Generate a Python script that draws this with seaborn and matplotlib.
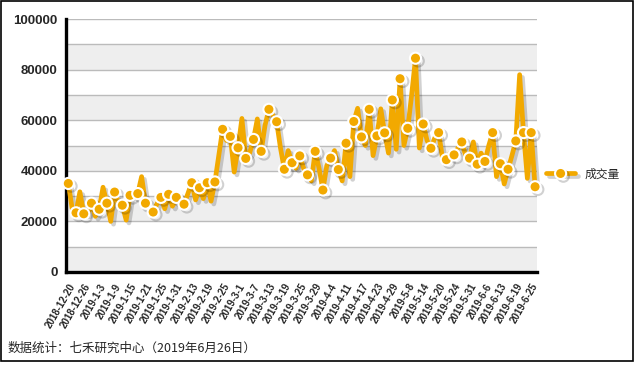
import matplotlib
matplotlib.use('Agg')
import matplotlib.pyplot as plt
import matplotlib.patheffects as pe
from matplotlib.patches import Rectangle
import numpy as np
import pandas as pd
import seaborn as sns

# daily volume (成交量), 2018-12-20 .. 2019-6-26, one value per trading day
volume = [
    35000, 25000, 23400, 31700, 23000, 23000, 27200, 22000, 24800, 33500,
    27200, 20000, 31600, 27500, 26400, 20500, 30300, 31500, 31000, 37700,
    27200, 25500, 23700, 27000, 29500, 25000, 30700, 26000, 29500, 27000,
    26800, 31000, 35300, 28500, 33300, 29000, 35300, 28000, 35600, 46000,
    56400, 52000, 53600, 39500, 49100, 60700, 44900, 47000, 52400, 60500,
    47700, 58000, 64300, 62000, 59400, 49000, 40600, 48000, 43200, 41000,
    45900, 41000, 38400, 36000, 47700, 41000, 32400, 42000, 45000, 48000,
    40500, 36000, 50900, 37700, 59500, 64700, 53400, 50000, 64300, 46000,
    53800, 64500, 55000, 47000, 68000, 48500, 76400, 50000, 56800, 70000,
    84500, 49000, 58500, 52000, 48900, 53000, 55100, 45000, 44400, 47000,
    46300, 49000, 51400, 46000, 45000, 51400, 42600, 47000, 43700, 50000,
    55100, 37700, 42800, 34800, 40600, 46000, 51800, 78000, 55100, 37000,
    55100, 33700,
]

tick_labels = [
    '2018-12-20', '2018-12-26', '2019-1-3', '2019-1-9', '2019-1-15',
    '2019-1-21', '2019-1-25', '2019-1-31', '2019-2-13', '2019-2-19',
    '2019-2-25', '2019-3-1', '2019-3-7', '2019-3-13', '2019-3-19',
    '2019-3-25', '2019-3-29', '2019-4-4', '2019-4-11', '2019-4-17',
    '2019-4-23', '2019-4-29', '2019-5-8', '2019-5-14', '2019-5-20',
    '2019-5-24', '2019-5-31', '2019-6-6', '2019-6-13', '2019-6-19',
    '2019-6-25',
]

series_name = '成交量'
note = '数据统计：七禾研究中心（2019年6月26日）'

sns.set_style('white')
plt.rcParams['font.family'] = ['Liberation Sans', 'Noto Sans CJK SC', 'DejaVu Sans']

df = pd.DataFrame({'pos': np.arange(len(volume)), 'volume': volume})

W, H = 636, 366
fig = plt.figure(figsize=(W / 100, H / 100), dpi=100)
ax = fig.add_axes([66 / W, (H - 272) / H, (537 - 66) / W, (272 - 19) / H])

orange = '#F2A900'

# alternating bands + grid
for lo in range(0, 100000, 20000):
    ax.axhspan(lo, lo + 10000, color='#eeeeee', lw=0, zorder=0)
for g in range(10000, 100001, 10000):
    ax.axhline(g, color='#bbbbbb', lw=1.0, zorder=0.5)

marks = list(range(0, len(volume), 2))
if marks[-1] != len(volume) - 1:
    marks.append(len(volume) - 1)

sns.lineplot(data=df, x='pos', y='volume', ax=ax, color=orange, lw=3.4,
             marker='o', markersize=8, markerfacecolor=orange,
             markeredgecolor='white', markeredgewidth=1.5, markevery=marks,
             label=series_name, zorder=5, clip_on=False,
             path_effects=[pe.SimpleLineShadow(offset=(2, -2), shadow_color='k', alpha=0.18),
                           pe.Normal()])

ax.set_xlim(-0.6, len(volume) - 0.5)
ax.set_ylim(0, 100000)
ax.set_yticks(range(0, 100001, 20000))
ax.set_xticks(range(0, len(volume), 4))
ax.set_xticklabels(tick_labels, rotation=60, ha='right', rotation_mode='anchor',
                   fontsize=7, fontweight='bold')
ax.tick_params(axis='y', labelsize=9.5, length=5, width=2, color='k', pad=1)
for t in ax.get_yticklabels():
    t.set_fontweight('bold')
ax.tick_params(axis='x', length=5, width=2, color='k', pad=2)
ax.set_xlabel('')
ax.set_ylabel('')

for s in ['top', 'right']:
    ax.spines[s].set_visible(False)
for s in ['left', 'bottom']:
    ax.spines[s].set_linewidth(2.4)
    ax.spines[s].set_color('k')
    ax.spines[s].set_zorder(4)

leg = ax.legend(loc='center left', bbox_to_anchor=(1.01, 0.387), frameon=False,
                borderaxespad=0, handlelength=2.4, handletextpad=0.8,
                prop={'family': ['Noto Sans CJK SC', 'DejaVu Sans'], 'size': 8.5})

fig.text(8 / W, 1 - 348 / H, note, fontsize=9, va='center', ha='left',
         family=['Noto Sans CJK SC', 'DejaVu Sans'])

fig.add_artist(Rectangle((1 / W, 5 / H), 632 / W, 360 / H, transform=fig.transFigure,
                         fill=False, ec='k', lw=1.2))

fig.savefig('out.png', dpi=100)
